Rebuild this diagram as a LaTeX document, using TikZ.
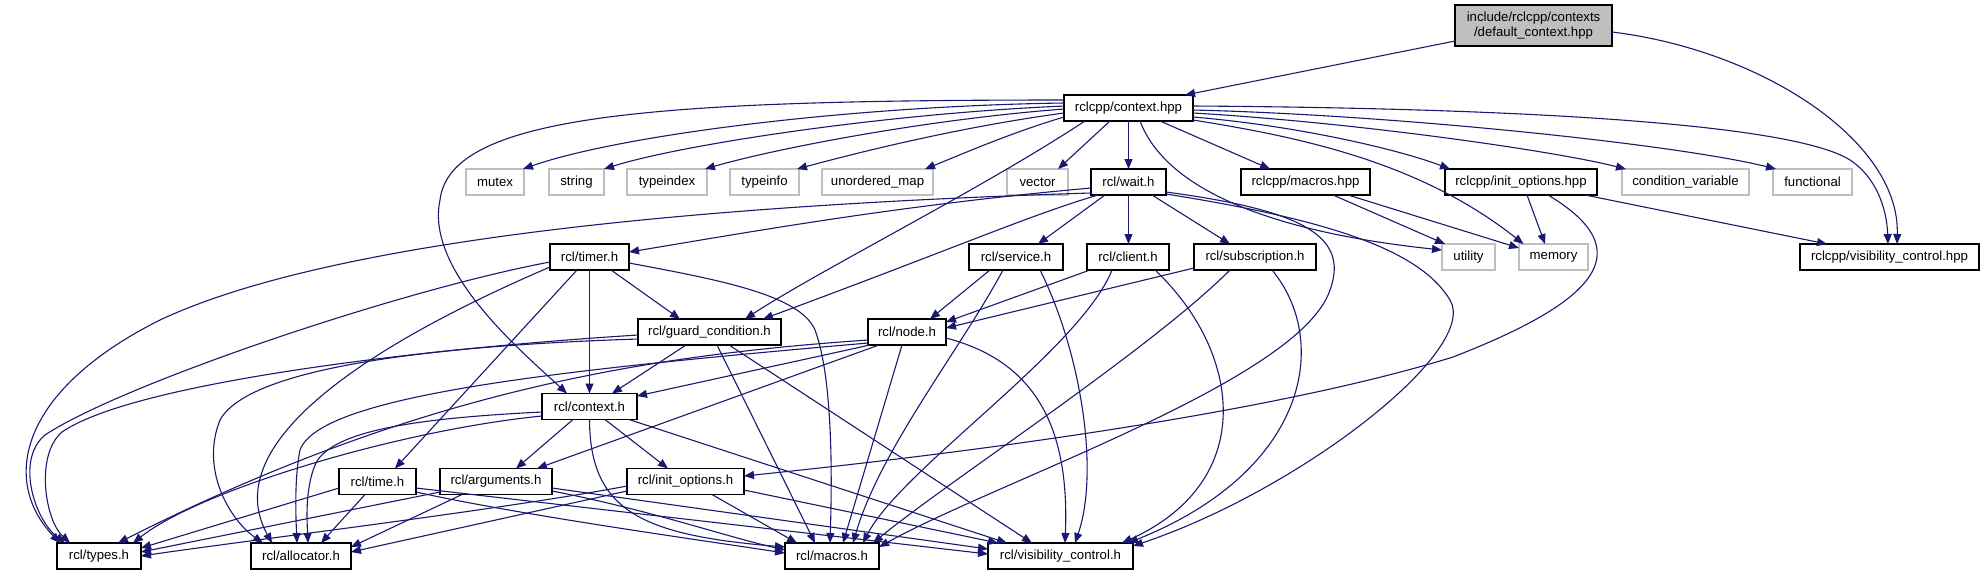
\documentclass[tikz,border=0pt]{standalone}
\usepackage{fontspec}
\newfontfamily\dfont{Liberation Sans}
\usetikzlibrary{arrows.meta,calc}
\definecolor{edgecol}{HTML}{191970}
\definecolor{sysgray}{HTML}{BFBFBF}
\begin{document}
\begin{tikzpicture}[x=0.5pt,y=-0.5pt,
 hdr/.style={draw=black,line width=0.7pt,fill=white,inner sep=0pt,minimum height=13pt,font=\dfont\fontsize{6.6}{7.6}\selectfont},
 sys/.style={hdr,draw=sysgray},
 e/.style={draw=edgecol,line width=0.55pt,-{Triangle[length=5pt,width=4pt]}}]
\fill[white] (0,0) rectangle (1984,575);
\useasboundingbox (0,0) rectangle (1984,575);
% nodes
\node[hdr,fill=sysgray,minimum width=78.5pt,minimum height=20.5pt,align=center] (dc) at (1533.5,25.5) {include/rclcpp/contexts\\/default\_context.hpp};
\node[hdr,minimum width=64.5pt] (ctxh) at (1128.5,108) {rclcpp/context.hpp};
\node[sys,minimum width=29pt] (mutex) at (495,182) {mutex};
\node[sys,minimum width=27.5pt] (string) at (576.5,182) {string};
\node[sys,minimum width=40pt] (typeindex) at (667,182) {typeindex};
\node[sys,minimum width=34.5pt] (typeinfo) at (764.5,182) {typeinfo};
\node[sys,minimum width=55.5pt] (umap) at (877.5,182) {unordered\_map};
\node[sys,minimum width=30.5pt] (vector) at (1037.5,182) {vector};
\node[hdr,minimum width=37.5pt] (wait) at (1128.5,182) {rcl/wait.h};
\node[hdr,minimum width=64.5pt] (machpp) at (1305.5,182) {rclcpp/macros.hpp};
\node[hdr,minimum width=76pt] (inithpp) at (1521,182) {rclcpp/init\_options.hpp};
\node[sys,minimum width=63.5pt] (condvar) at (1685.5,182) {condition\_variable};
\node[sys,minimum width=39.5pt] (functional) at (1812.5,182) {functional};
\node[hdr,minimum width=39.5pt] (timer) at (589.5,257) {rcl/timer.h};
\node[hdr,minimum width=47pt] (service) at (1016,257) {rcl/service.h};
\node[hdr,minimum width=41pt] (client) at (1128,257) {rcl/client.h};
\node[hdr,minimum width=61pt] (subs) at (1255,257) {rcl/subscription.h};
\node[sys,minimum width=26.5pt] (utility) at (1468.5,257) {utility};
\node[sys,minimum width=34.5pt] (memory) at (1553.5,257) {memory};
\node[hdr,minimum width=89.5pt] (vhpp) at (1889.5,257) {rclcpp/visibility\_control.hpp};
\node[hdr,minimum width=71.5pt] (gc) at (709.5,332) {rcl/guard\_condition.h};
\node[hdr,minimum width=39pt] (node) at (907,332) {rcl/node.h};
\node[hdr,minimum width=47.5pt] (ctx) at (589.5,406.5) {rcl/context.h};
\node[hdr,minimum width=38.5pt] (time) at (377.5,481.5) {rcl/time.h};
\node[hdr,minimum width=56pt] (args) at (496,481.5) {rcl/arguments.h};
\node[hdr,minimum width=58.5pt] (inith) at (685.5,481.5) {rcl/init\_options.h};
\node[hdr,minimum width=42pt] (types) at (99,556) {rcl/types.h};
\node[hdr,minimum width=50pt] (alloc) at (301,556) {rcl/allocator.h};
\node[hdr,minimum width=47pt] (macros) at (832,556) {rcl/macros.h};
\node[hdr,minimum width=72.5pt] (vis) at (1060.5,556) {rcl/visibility\_control.h};
% default_context
\draw[e] ($(dc)+(-78.5,15.5)$) -- ($(ctxh)+(56.5,-13)$);
\draw[e] ($(dc)+(78.5,6.5)$) .. controls (1760,50) and (1900,140) .. ($(vhpp)+(7.5,-13)$);
% rclcpp/context.hpp
\draw[e] ($(ctxh)+(-64.5,-5)$) .. controls (850,106) and (620,135) .. ($(mutex)+(28,-13)$);
\draw[e] ($(ctxh)+(-64.5,-2)$) .. controls (880,114) and (680,145) .. ($(string)+(27.5,-13)$);
\draw[e] ($(ctxh)+(-64.5,1)$) .. controls (920,120) and (770,150) .. ($(typeindex)+(38,-13)$);
\draw[e] ($(ctxh)+(-64.5,5)$) .. controls (960,127) and (860,152) .. ($(typeinfo)+(32.5,-13)$);
\draw[e] ($(ctxh)+(-64.5,9)$) .. controls (1010,133) and (960,155) .. ($(umap)+(47.5,-13)$);
\draw[e] ($(ctxh)+(-18.5,13)$) -- ($(vector)+(20.5,-13)$);
\draw[e] ($(ctxh)+(0,13)$) -- ($(wait)+(0,-13)$);
\draw[e] ($(ctxh)+(-43.5,13)$) .. controls (980,190) and (820,270) .. ($(gc)+(35.5,-13)$);
\draw[e] ($(ctxh)+(-64.5,-8)$) .. controls (650,100) and (450,115) .. (440,200) .. controls (425,270) and (520,350) .. ($(ctx)+(-22.5,-13)$);
\draw[e] ($(ctxh)+(31.5,13)$) -- ($(machpp)+(-35.5,-13)$);
\draw[e] ($(ctxh)+(11.5,13)$) .. controls (1170,200) and (1300,235) .. ($(utility)+(-26.5,-7)$);
\draw[e] ($(ctxh)+(64.5,12)$) .. controls (1300,137) and (1420,162) .. ($(memory)+(-30,-13)$);
\draw[e] ($(ctxh)+(64.5,9)$) .. controls (1300,126) and (1400,150) .. ($(inithpp)+(-71,-13)$);
\draw[e] ($(ctxh)+(64.5,5)$) .. controls (1350,122) and (1550,150) .. ($(condvar)+(-59.5,-13)$);
\draw[e] ($(ctxh)+(64.5,2)$) .. controls (1400,115) and (1680,145) .. ($(functional)+(-36.5,-13)$);
\draw[e] ($(ctxh)+(64.5,-2)$) .. controls (1500,108) and (1790,122) .. (1850,160) .. controls (1880,180) and (1887,215) .. ($(vhpp)+(-1.5,-13)$);
% rclcpp/macros.hpp
\draw[e] ($(machpp)+(27.5,13)$) -- ($(utility)+(-23.5,-13)$);
\draw[e] ($(machpp)+(42.5,13)$) -- ($(memory)+(-34.5,-9)$);
% rclcpp/init_options.hpp
\draw[e] ($(inithpp)+(6,13)$) -- ($(memory)+(-8.5,-13)$);
\draw[e] ($(inithpp)+(27,13)$) .. controls (1640,250) and (1600,300) .. (1453,357) .. controls (1250,420) and (900,460) .. ($(inith)+(58.5,-5.5)$);
\draw[e] ($(inithpp)+(64,13)$) -- ($(vhpp)+(-62.5,-13)$);
% rcl/wait.h
\draw[e] ($(wait)+(-37.5,6)$) .. controls (900,205) and (750,232) .. ($(timer)+(39.5,-5)$);
\draw[e] ($(wait)+(-37.5,11)$) .. controls (700,205) and (330,240) .. (160,320) .. controls (20,390) and (0,480) .. ($(types)+(-39,-13)$);
\draw[e] ($(wait)+(-30.5,13)$) .. controls (1030,215) and (950,250) .. ($(gc)+(53.5,-13)$);
\draw[e] ($(wait)+(-23.5,13)$) -- ($(service)+(22,-13)$);
\draw[e] ($(wait)+(0,13)$) -- ($(client)+(0.5,-13)$);
\draw[e] ($(wait)+(23.5,13)$) -- ($(subs)+(-25,-13)$);
\draw[e] ($(wait)+(37.5,10)$) .. controls (1300,210) and (1350,235) .. (1330,290) .. controls (1300,380) and (1000,480) .. ($(macros)+(47,-9)$);
\draw[e] ($(wait)+(37.5,12)$) .. controls (1330,220) and (1420,250) .. (1450,300) .. controls (1480,350) and (1300,490) .. ($(vis)+(72.5,-10)$);
% rcl/timer.h
\draw[e] ($(timer)+(-12.5,13)$) -- ($(time)+(17.5,-13)$);
\draw[e] ($(timer)+(0,13)$) -- ($(ctx)+(0,-13)$);
\draw[e] ($(timer)+(21.5,13)$) -- ($(gc)+(-29.5,-13)$);
\draw[e] ($(timer)+(39.5,6)$) .. controls (720,280) and (800,295) .. (815,330) .. controls (830,370) and (833,450) .. ($(macros)+(-2,-13)$);
\draw[e] ($(timer)+(-39.5,5)$) .. controls (400,290) and (120,385) .. (45,435) .. controls (15,460) and (35,520) .. ($(types)+(-34,-13)$);
\draw[e] ($(timer)+(-39.5,10)$) .. controls (380,340) and (215,440) .. ($(alloc)+(-29,-13)$);
% rcl/guard_condition.h
\draw[e] ($(gc)+(-71.5,3)$) .. controls (400,350) and (130,385) .. (62,432) .. controls (35,455) and (45,520) .. ($(types)+(-29,-13)$);
\draw[e] ($(gc)+(-71.5,7)$) .. controls (450,345) and (250,365) .. (220,420) .. controls (200,470) and (230,520) .. ($(alloc)+(-38,-13)$);
\draw[e] ($(gc)+(-23.5,13)$) -- ($(ctx)+(22.5,-13)$);
\draw[e] ($(gc)+(7.5,13)$) -- ($(macros)+(-17,-13)$);
\draw[e] ($(gc)+(19.5,13)$) -- ($(vis)+(-28.5,-13)$);
% rcl/node.h
\draw[e] ($(node)+(-39,8)$) .. controls (650,355) and (420,390) .. ($(types)+(19,-13)$);
\draw[e] ($(node)+(-39,11)$) .. controls (560,370) and (320,395) .. (300,450) .. controls (294,480) and (296,520) .. ($(alloc)+(-4,-13)$);
\draw[e] ($(node)+(-37,13)$) -- ($(ctx)+(47.5,-10.5)$);
\draw[e] ($(node)+(-28,13)$) -- ($(args)+(41,-13)$);
\draw[e] ($(node)+(-5,13)$) -- ($(macros)+(11,-13)$);
\draw[e] ($(node)+(39,6)$) .. controls (1030,360) and (1070,420) .. ($(vis)+(4.5,-13)$);
% rcl/service.h
\draw[e] ($(service)+(-26,13)$) -- ($(node)+(23,-13)$);
\draw[e] ($(service)+(-13,13)$) .. controls (960,350) and (880,450) .. ($(macros)+(21,-13)$);
\draw[e] ($(service)+(24,13)$) .. controls (1080,350) and (1100,470) .. ($(vis)+(14.5,-13)$);
% rcl/client.h
\draw[e] ($(client)+(-38,13)$) -- ($(node)+(39,-10)$);
\draw[e] ($(client)+(-16,13)$) .. controls (1080,350) and (900,470) .. ($(macros)+(31,-13)$);
\draw[e] ($(client)+(27,13)$) .. controls (1240,350) and (1260,480) .. ($(vis)+(61.5,-13)$);
% rcl/subscription.h
\draw[e] ($(subs)+(-61,11)$) -- ($(node)+(39,-4)$);
\draw[e] ($(subs)+(-25,13)$) .. controls (1150,350) and (950,480) .. ($(macros)+(41,-13)$);
\draw[e] ($(subs)+(17,13)$) .. controls (1330,340) and (1310,470) .. ($(vis)+(67.5,-13)$);
% rcl/context.h
\draw[e] ($(ctx)+(-16.5,13)$) -- ($(args)+(20,-13)$);
\draw[e] ($(ctx)+(15.5,13)$) -- ($(inith)+(-17.5,-13)$);
\draw[e] ($(ctx)+(-47.5,9.5)$) .. controls (400,430) and (200,490) .. ($(types)+(34,-13)$);
\draw[e] ($(ctx)+(-47.5,5.5)$) .. controls (420,418) and (330,430) .. (315,465) .. controls (305,490) and (307,520) .. ($(alloc)+(7,-13)$);
\draw[e] ($(ctx)+(0,13)$) .. controls (590,510) and (640,535) .. ($(macros)+(-47,-9)$);
\draw[e] ($(ctx)+(39.5,13)$) -- ($(vis)+(-53.5,-13)$);
% rcl/time.h
\draw[e] ($(time)+(-38.5,6.5)$) -- ($(types)+(42,-8)$);
\draw[e] ($(time)+(-12.5,13)$) -- ($(alloc)+(20,-13)$);
\draw[e] ($(time)+(38.5,10.5)$) .. controls (520,515) and (700,540) .. ($(macros)+(-47,-3)$);
\draw[e] ($(time)+(38.5,6.5)$) -- ($(vis)+(-72.5,-2)$);
% rcl/arguments.h
\draw[e] ($(args)+(-56,10.5)$) -- ($(types)+(42,-4)$);
\draw[e] ($(args)+(-34,13)$) -- ($(alloc)+(50,-9)$);
\draw[e] ($(args)+(56,9.5)$) .. controls (650,510) and (720,535) .. ($(macros)+(-47,-6)$);
\draw[e] ($(args)+(56,6.5)$) -- ($(vis)+(-72.5,-7)$);
% rcl/init_options.h
\draw[e] ($(inith)+(-58.5,4.5)$) .. controls (500,510) and (250,540) .. ($(types)+(42,0)$);
\draw[e] ($(inith)+(-58.5,9.5)$) -- ($(alloc)+(50,-4)$);
\draw[e] ($(inith)+(26.5,13)$) -- ($(macros)+(-35,-13)$);
\draw[e] ($(inith)+(58.5,8.5)$) -- ($(vis)+(-62.5,-13)$);
\end{tikzpicture}
\end{document}
